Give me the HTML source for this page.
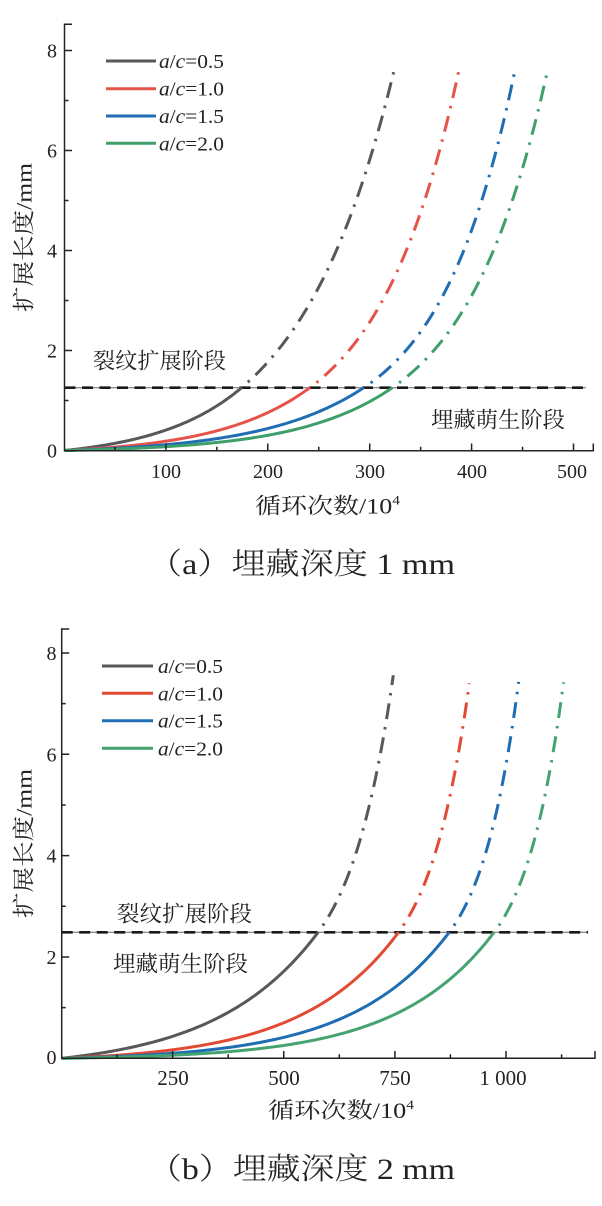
<!DOCTYPE html>
<html>
<head>
<meta charset="utf-8">
<style>
  html, body { margin: 0; padding: 0; background: #ffffff; }
  body { width: 602px; height: 1206px; overflow: hidden; }
  svg { display: block; }
  .num { font-family: "Liberation Serif", serif; font-size: 20px; fill: #222; }
  .cjk { font-family: "Liberation Serif", "Noto Serif CJK SC", serif; fill: #222; }
</style>
</head>
<body>
<svg width="602" height="1206" viewBox="0 0 602 1206" xmlns="http://www.w3.org/2000/svg">
  <rect x="0" y="0" width="602" height="1206" fill="#ffffff"/>

  <!-- ================= TOP CHART ================= -->
  <g id="topChart">
    <line x1="64.5" y1="387.7" x2="586" y2="387.7" stroke="#666" stroke-width="1"/>
    <line x1="64.5" y1="387.7" x2="586" y2="387.7" stroke="#1a1a1a" stroke-width="2.6" stroke-dasharray="11 6.5"/>

    <g fill="none" stroke-width="3" stroke-linejoin="round">
      <path id="t0s" stroke="#58585a"/>
      <path id="t0d" stroke="#58585a" stroke-dasharray="16 8 2.5 8" stroke-dashoffset="16"/>
      <path id="t1s" stroke="#e5534b"/>
      <path id="t1d" stroke="#e5534b" stroke-dasharray="16 8 2.5 8" stroke-dashoffset="16"/>
      <path id="t2s" stroke="#1f6db3"/>
      <path id="t2d" stroke="#1f6db3" stroke-dasharray="16 8 2.5 8" stroke-dashoffset="16"/>
      <path id="t3s" stroke="#3f9f6a"/>
      <path id="t3d" stroke="#3f9f6a" stroke-dasharray="16 8 2.5 8" stroke-dashoffset="16"/>
    </g>

    <path d="M72 24.3 H64.5 V450.7 H593.3 V443.5" fill="none" stroke="#222" stroke-width="1.5"/>
    <path d="M64.5 400.5 H68.5 M64.5 350.5 H72 M64.5 300.5 H68.5 M64.5 250.5 H72 M64.5 200.5 H68.5 M64.5 150.5 H72 M64.5 100.5 H68.5 M64.5 50.5 H72" stroke="#222" stroke-width="1.5"/>
    <path d="M114.95 450.7 V446.7 M165.9 450.7 V443.5 M216.85 450.7 V446.7 M267.8 450.7 V443.5 M318.75 450.7 V446.7 M369.7 450.7 V443.5 M420.65 450.7 V446.7 M471.6 450.7 V443.5 M522.55 450.7 V446.7 M573.5 450.7 V443.5" stroke="#222" stroke-width="1.5"/>

    <g class="num" text-anchor="end">
      <text x="57" y="457.5">0</text>
      <text x="57" y="357.5">2</text>
      <text x="57" y="257.5">4</text>
      <text x="57" y="157.5">6</text>
      <text x="57" y="57.5">8</text>
    </g>
    <g class="num" text-anchor="middle">
      <text x="166" y="478">100</text>
      <text x="268" y="478">200</text>
      <text x="370" y="478">300</text>
      <text x="472" y="478">400</text>
      <text x="572" y="478">500</text>
    </g>

    <g stroke-width="3">
      <line x1="106" y1="61" x2="156" y2="61" stroke="#58585a"/>
      <line x1="106" y1="88.7" x2="156" y2="88.7" stroke="#e5534b"/>
      <line x1="106" y1="116" x2="156" y2="116" stroke="#1f6db3"/>
      <line x1="106" y1="143.3" x2="156" y2="143.3" stroke="#3f9f6a"/>
    </g>
    <g class="num">
      <text x="159" y="68" textLength="65" lengthAdjust="spacingAndGlyphs"><tspan font-style="italic">a</tspan>/<tspan font-style="italic">c</tspan>=0.5</text>
      <text x="159" y="95.7" textLength="65" lengthAdjust="spacingAndGlyphs"><tspan font-style="italic">a</tspan>/<tspan font-style="italic">c</tspan>=1.0</text>
      <text x="159" y="123" textLength="65" lengthAdjust="spacingAndGlyphs"><tspan font-style="italic">a</tspan>/<tspan font-style="italic">c</tspan>=1.5</text>
      <text x="159" y="150.3" textLength="65" lengthAdjust="spacingAndGlyphs"><tspan font-style="italic">a</tspan>/<tspan font-style="italic">c</tspan>=2.0</text>
    </g>

    <text class="cjk" x="93" y="368.4" font-size="22" textLength="133" lengthAdjust="spacingAndGlyphs">裂纹扩展阶段</text>
    <text class="cjk" x="431" y="427.4" font-size="22" textLength="134" lengthAdjust="spacingAndGlyphs">埋藏萌生阶段</text>

    <text class="cjk" x="327.5" y="513.5" font-size="22" text-anchor="middle" textLength="145" lengthAdjust="spacingAndGlyphs"><tspan>循环次数</tspan><tspan font-family="Liberation Serif, serif">/10</tspan><tspan font-family="Liberation Serif, serif" font-size="13" dy="-9">4</tspan></text>
    <text class="cjk" transform="translate(31.4,237.5) rotate(-90)" x="0" y="0" font-size="22" text-anchor="middle" textLength="149" lengthAdjust="spacingAndGlyphs"><tspan>扩展长度</tspan><tspan font-family="Liberation Serif, serif">/mm</tspan></text>

    <text class="cjk" x="301.5" y="574" font-size="30" font-weight="300" text-anchor="middle" textLength="307" lengthAdjust="spacingAndGlyphs" fill="#2a2a2a">（a）埋藏深度 1 mm</text>
  </g>

  <!-- ================= BOTTOM CHART ================= -->
  <g id="botChart">
    <line x1="61.7" y1="932.3" x2="588" y2="932.3" stroke="#666" stroke-width="1"/>
    <line x1="61.7" y1="932.3" x2="588" y2="932.3" stroke="#1a1a1a" stroke-width="2.6" stroke-dasharray="11 6.5"/>

    <g fill="none" stroke-width="3" stroke-linejoin="round">
      <path id="b0s" stroke="#58585a"/>
      <path id="b0d" stroke="#58585a" stroke-dasharray="16 8 2.5 8" stroke-dashoffset="16"/>
      <path id="b1s" stroke="#e24a33"/>
      <path id="b1d" stroke="#e24a33" stroke-dasharray="16 8 2.5 8" stroke-dashoffset="16"/>
      <path id="b2s" stroke="#1f6db3"/>
      <path id="b2d" stroke="#1f6db3" stroke-dasharray="16 8 2.5 8" stroke-dashoffset="16"/>
      <path id="b3s" stroke="#45a271"/>
      <path id="b3d" stroke="#45a271" stroke-dasharray="16 8 2.5 8" stroke-dashoffset="16"/>
    </g>

    <path d="M69.2 629 H61.7 V1058.3 H595 V1051" fill="none" stroke="#222" stroke-width="1.5"/>
    <path d="M61.7 1007.6 H65.7 M61.7 956.96 H69.2 M61.7 906.3 H65.7 M61.7 855.6 H69.2 M61.7 805 H65.7 M61.7 754.3 H69.2 M61.7 703.6 H65.7 M61.7 653 H69.2" stroke="#222" stroke-width="1.5"/>
    <path d="M117.06 1058.3 V1054.3 M172.6 1058.3 V1051 M228.2 1058.3 V1054.3 M283.75 1058.3 V1051 M339.3 1058.3 V1054.3 M394.9 1058.3 V1051 M450.4 1058.3 V1054.3 M506 1058.3 V1051 M561.6 1058.3 V1054.3" stroke="#222" stroke-width="1.5"/>

    <g class="num" text-anchor="end">
      <text x="56.5" y="1064">0</text>
      <text x="56.5" y="964">2</text>
      <text x="56.5" y="862.6">4</text>
      <text x="56.5" y="761.3">6</text>
      <text x="56.5" y="660">8</text>
    </g>
    <g class="num" text-anchor="middle">
      <text x="173" y="1085" font-size="21">250</text>
      <text x="284" y="1085" font-size="21">500</text>
      <text x="395" y="1085" font-size="21">750</text>
      <text x="503" y="1085" font-size="21">1 000</text>
    </g>

    <g stroke-width="3">
      <line x1="102" y1="666" x2="153" y2="666" stroke="#58585a"/>
      <line x1="102" y1="693.3" x2="153" y2="693.3" stroke="#e24a33"/>
      <line x1="102" y1="720.7" x2="153" y2="720.7" stroke="#1f6db3"/>
      <line x1="102" y1="748.3" x2="153" y2="748.3" stroke="#45a271"/>
    </g>
    <g class="num">
      <text x="158" y="673" textLength="65" lengthAdjust="spacingAndGlyphs"><tspan font-style="italic">a</tspan>/<tspan font-style="italic">c</tspan>=0.5</text>
      <text x="158" y="700.3" textLength="65" lengthAdjust="spacingAndGlyphs"><tspan font-style="italic">a</tspan>/<tspan font-style="italic">c</tspan>=1.0</text>
      <text x="158" y="727.7" textLength="65" lengthAdjust="spacingAndGlyphs"><tspan font-style="italic">a</tspan>/<tspan font-style="italic">c</tspan>=1.5</text>
      <text x="158" y="755.3" textLength="65" lengthAdjust="spacingAndGlyphs"><tspan font-style="italic">a</tspan>/<tspan font-style="italic">c</tspan>=2.0</text>
    </g>

    <text class="cjk" x="117" y="921.4" font-size="22" textLength="135" lengthAdjust="spacingAndGlyphs">裂纹扩展阶段</text>
    <text class="cjk" x="113" y="971.4" font-size="22" textLength="135" lengthAdjust="spacingAndGlyphs">埋藏萌生阶段</text>

    <text class="cjk" x="341" y="1118" font-size="22" text-anchor="middle" textLength="146" lengthAdjust="spacingAndGlyphs"><tspan>循环次数</tspan><tspan font-family="Liberation Serif, serif">/10</tspan><tspan font-family="Liberation Serif, serif" font-size="13" dy="-9">4</tspan></text>
    <text class="cjk" transform="translate(31.4,843.5) rotate(-90)" x="0" y="0" font-size="22" text-anchor="middle" textLength="149" lengthAdjust="spacingAndGlyphs"><tspan>扩展长度</tspan><tspan font-family="Liberation Serif, serif">/mm</tspan></text>

    <text class="cjk" x="301.5" y="1179" font-size="30" font-weight="300" text-anchor="middle" textLength="307" lengthAdjust="spacingAndGlyphs" fill="#2a2a2a">（b）埋藏深度 2 mm</text>
  </g>

<script>
(function(){
  function f(t,k){ if (Math.abs(k) < 1e-6) return t; return (Math.exp(k*t)-1)/(Math.exp(k)-1); }
  function g(k){ if (Math.abs(k) < 1e-6) return 1; return k/(Math.exp(k)-1); }
  function solveK(r){
    var lo=-20, hi=30, mid=0;
    for (var i=0;i<80;i++){ mid=(lo+hi)/2; if (g(mid) > r) lo=mid; else hi=mid; }
    return mid;
  }
  function build(prefix, X, Y, ac, curves){
    curves.forEach(function(c, idx){
      var s = [], d = [], n1 = 90, n2 = 70, i, N, a;
      for (i=0;i<=n1;i++){
        N = c.Nc*i/n1; a = ac*f(i/n1, c.k1);
        s.push((i?'L':'M') + X(N).toFixed(2) + ' ' + Y(a).toFixed(2));
      }
      var slope1 = ac*c.k1*Math.exp(c.k1)/((Math.exp(c.k1)-1)*c.Nc);
      var r = slope1*(c.Ne-c.Nc)/(c.ae-ac);
      var k2 = solveK(r);
      for (i=0;i<=n2;i++){
        N = c.Nc + (c.Ne-c.Nc)*i/n2; a = ac + (c.ae-ac)*f(i/n2, k2);
        d.push((i?'L':'M') + X(N).toFixed(2) + ' ' + Y(a).toFixed(2));
      }
      document.getElementById(prefix+idx+'s').setAttribute('d', s.join(' '));
      document.getElementById(prefix+idx+'d').setAttribute('d', d.join(' '));
    });
  }
  build('t', function(N){return 64.5+1.019*N;}, function(a){return 450.5-50*a;}, 1.26, [
    {Nc:174, k1:2.1, Ne:323.5, ae:7.61},
    {Nc:241, k1:2.7, Ne:387,   ae:7.6},
    {Nc:294, k1:3.0, Ne:442,   ae:7.6},
    {Nc:322, k1:3.5, Ne:474,   ae:7.6}
  ]);
  build('b', function(N){return 61.7+0.4445*N;}, function(a){return 1058.3-50.67*a;}, 2.49, [
    {Nc:577, k1:2.5, Ne:746,  ae:7.56},
    {Nc:758, k1:3.5, Ne:917,  ae:7.4},
    {Nc:872, k1:4.0, Ne:1028, ae:7.43},
    {Nc:973, k1:4.5, Ne:1129, ae:7.42}
  ]);
})();
</script>
</svg>
</body>
</html>
